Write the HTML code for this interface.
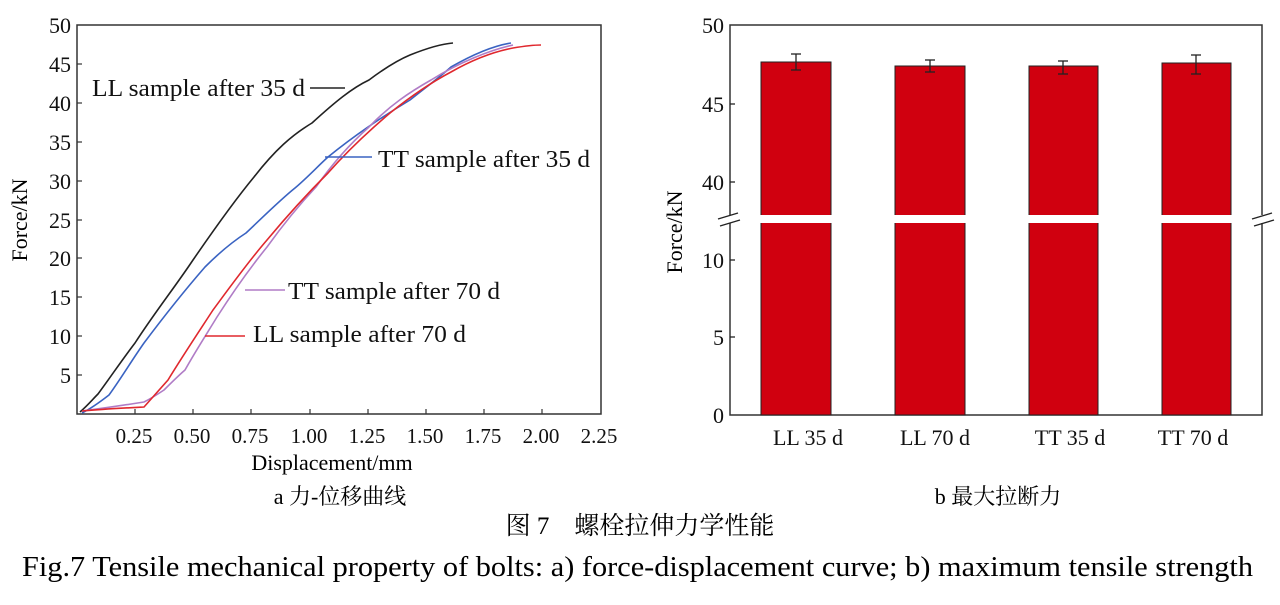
<!DOCTYPE html>
<html><head><meta charset="utf-8"><style>body{margin:0;background:#fff}svg{display:block}</style></head>
<body>
<svg width="1280" height="605" xmlns="http://www.w3.org/2000/svg" font-family="'Liberation Serif','Noto Serif CJK SC',serif">
<!-- Left chart -->
<rect x="77" y="25" width="524" height="389" fill="none" stroke="#333" stroke-width="1.5"/>
<g stroke="#333" stroke-width="1.2">
<line x1="77" y1="375" x2="82" y2="375"/><line x1="77" y1="336" x2="82" y2="336"/><line x1="77" y1="297" x2="82" y2="297"/><line x1="77" y1="258" x2="82" y2="258"/><line x1="77" y1="220" x2="82" y2="220"/><line x1="77" y1="181" x2="82" y2="181"/><line x1="77" y1="142" x2="82" y2="142"/><line x1="77" y1="103" x2="82" y2="103"/><line x1="77" y1="64" x2="82" y2="64"/>
<line x1="135" y1="414" x2="135" y2="409"/><line x1="193" y1="414" x2="193" y2="409"/><line x1="251" y1="414" x2="251" y2="409"/><line x1="310" y1="414" x2="310" y2="409"/><line x1="368" y1="414" x2="368" y2="409"/><line x1="426" y1="414" x2="426" y2="409"/><line x1="484" y1="414" x2="484" y2="409"/><line x1="542" y1="414" x2="542" y2="409"/>
</g>
<g font-size="22" text-anchor="end" fill="#111">
<text x="71" y="33">50</text><text x="71" y="72">45</text><text x="71" y="111">40</text><text x="71" y="150">35</text><text x="71" y="189">30</text><text x="71" y="228">25</text><text x="71" y="266">20</text><text x="71" y="305">15</text><text x="71" y="344">10</text><text x="71" y="383">5</text>
</g>
<g font-size="21" text-anchor="middle" fill="#111">
<text x="134" y="443">0.25</text><text x="192" y="443">0.50</text><text x="250" y="443">0.75</text><text x="309" y="443">1.00</text><text x="367" y="443">1.25</text><text x="425" y="443">1.50</text><text x="483" y="443">1.75</text><text x="541" y="443">2.00</text><text x="599" y="443">2.25</text>
</g>
<text x="332" y="470" font-size="22" text-anchor="middle">Displacement/mm</text>
<text transform="translate(27,220) rotate(-90)" font-size="22" text-anchor="middle">Force/kN</text>
<g fill="none" stroke-width="1.6">
<path d="M80,412 C88,405 92,400 98,394 C112,375 122,360 135,343 C155,312 175,287 193,260 C215,228 235,200 254,177 C275,150 292,135 312,123 C335,102 352,88 369,80 C385,68 398,60 410,55 C425,49 440,44 453,43" stroke="#222"/>
<path d="M82,413 C92,408 100,402 109,395 C120,380 132,360 144,343 C165,315 185,290 205,267 C220,252 232,242 246,233 C262,218 280,200 295,188 C308,177 318,166 328,157 C355,135 385,115 410,100 C425,88 440,77 451,67 C472,55 492,46 511,43" stroke="#3a63c2"/>
<path d="M82,411 C105,408 125,405 144,402 C152,398 158,394 164,390 C172,382 178,376 185,370 C195,352 206,335 217,317 C233,292 250,268 267,247 C285,222 300,204 316,187 C335,160 352,142 369,127 C390,105 410,92 431,80 C460,62 490,50 513,45" stroke="#b07cc6"/>
<path d="M82,411 C105,409 125,408 144,407 C152,398 160,389 168,380 C182,357 198,333 213,310 C230,287 248,262 267,240 C287,216 308,193 328,173 C350,148 370,130 390,113 C410,97 430,83 451,72 C472,60 492,52 513,48 C525,46 535,45 541,45" stroke="#e0282e"/>
</g>
<g stroke-width="1.6">
<line x1="310" y1="88" x2="345" y2="88" stroke="#222"/>
<line x1="325" y1="157" x2="372" y2="157" stroke="#3a63c2"/>
<line x1="245" y1="290" x2="285" y2="290" stroke="#b07cc6"/>
<line x1="205" y1="336" x2="245" y2="336" stroke="#e0282e"/>
</g>
<g font-size="24" fill="#111">
<text x="92" y="96" textLength="213" lengthAdjust="spacingAndGlyphs">LL sample after 35 d</text>
<text x="378" y="167" textLength="212" lengthAdjust="spacingAndGlyphs">TT sample after 35 d</text>
<text x="288" y="299" textLength="212" lengthAdjust="spacingAndGlyphs">TT sample after 70 d</text>
<text x="253" y="342" textLength="213" lengthAdjust="spacingAndGlyphs">LL sample after 70 d</text>
</g>
<!-- Right chart -->
<rect x="730" y="25" width="532" height="390" fill="none" stroke="#333" stroke-width="1.5"/>
<g fill="#d0000f" stroke="#222" stroke-width="1">
<rect x="761" y="62" width="70" height="353"/>
<rect x="895" y="66" width="70" height="349"/>
<rect x="1029" y="66" width="69" height="349"/>
<rect x="1162" y="63" width="69" height="352"/>
</g>
<rect x="728" y="215" width="536" height="8" fill="#fff"/>
<g stroke="#222" stroke-width="1.3">
<line x1="718" y1="219" x2="738" y2="213"/><line x1="720" y1="226" x2="740" y2="220"/>
<line x1="1252" y1="219" x2="1272" y2="213"/><line x1="1254" y1="226" x2="1274" y2="220"/>
<line x1="730" y1="104" x2="735" y2="104"/><line x1="730" y1="182" x2="735" y2="182"/><line x1="730" y1="260" x2="735" y2="260"/><line x1="730" y1="337" x2="735" y2="337"/>
<line x1="796" y1="54" x2="796" y2="70"/><line x1="791" y1="54" x2="801" y2="54"/><line x1="791" y1="70" x2="801" y2="70"/>
<line x1="930" y1="60" x2="930" y2="72"/><line x1="925" y1="60" x2="935" y2="60"/><line x1="925" y1="72" x2="935" y2="72"/>
<line x1="1063" y1="61" x2="1063" y2="74"/><line x1="1058" y1="61" x2="1068" y2="61"/><line x1="1058" y1="74" x2="1068" y2="74"/>
<line x1="1196" y1="55" x2="1196" y2="74"/><line x1="1191" y1="55" x2="1201" y2="55"/><line x1="1191" y1="74" x2="1201" y2="74"/>
</g>
<g font-size="22" text-anchor="end" fill="#111">
<text x="724" y="33">50</text><text x="724" y="112">45</text><text x="724" y="190">40</text><text x="724" y="268">10</text><text x="724" y="345">5</text><text x="724" y="423">0</text>
</g>
<text transform="translate(682,232) rotate(-90)" font-size="22" text-anchor="middle">Force/kN</text>
<g font-size="22" text-anchor="middle" fill="#111">
<text x="808" y="445">LL 35 d</text><text x="935" y="445">LL 70 d</text><text x="1070" y="445">TT 35 d</text><text x="1193" y="445">TT 70 d</text>
</g>
<!-- captions -->
<text x="340" y="504" font-size="22" text-anchor="middle">a 力-位移曲线</text>
<text x="998" y="504" font-size="22" text-anchor="middle">b 最大拉断力</text>
<text x="640" y="534" font-size="25" text-anchor="middle">图 7　螺栓拉伸力学性能</text>
<text x="22" y="576" font-size="28" textLength="1231" lengthAdjust="spacingAndGlyphs">Fig.7 Tensile mechanical property of bolts: a) force-displacement curve; b) maximum tensile strength</text>
</svg>
</body></html>
